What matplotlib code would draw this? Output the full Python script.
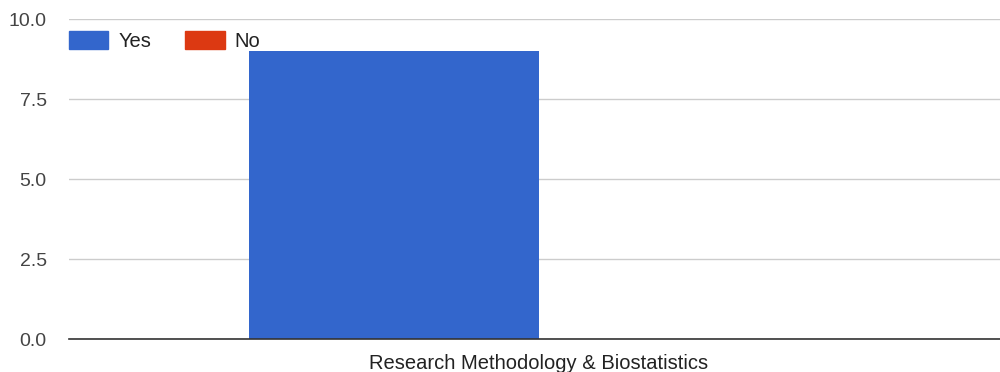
import matplotlib as mpl
import matplotlib.pyplot as plt
from matplotlib.patches import Patch

categories = ['Research Methodology & Biostatistics']
yes_vals = [9]
no_vals = [0]
y_ticks = [0.0, 2.5, 5.0, 7.5, 10.0]

mpl.rcParams['font.family'] = ['Liberation Sans', 'DejaVu Sans']

dpi = 100
fig = plt.figure(dpi=dpi, figsize=(1000 / dpi, 372 / dpi))
ax = fig.add_axes([0.069, 1 - 339 / 372, 0.94, 320 / 372])

xs = range(len(categories))
w = 0.3085
ax.bar([x - w / 2 for x in xs], yes_vals, width=w, color='#3366cc', label='Yes')
ax.bar([x + w / 2 for x in xs], no_vals, width=w, color='#dc3912', label='No')

ax.set_xlim(-0.5, 0.5)
ax.set_ylim(0, 10)
ax.set_yticks(y_ticks)
ax.set_yticklabels(['%.1f' % v for v in y_ticks])
ax.set_xticks(list(xs))
ax.set_xticklabels(categories)
ax.tick_params(axis='y', length=0, pad=16, labelsize=14, labelcolor='#444444')
ax.tick_params(axis='x', length=0, pad=11, labelsize=14.5, labelcolor='#222222')

ax.grid(axis='y', color='#cccccc', linewidth=1)
ax.set_axisbelow(True)
for s in ['top', 'right', 'left']:
    ax.spines[s].set_visible(False)
ax.spines['bottom'].set_color('#333333')
ax.spines['bottom'].set_linewidth(1.2)

handles = [Patch(color='#3366cc', label='Yes'), Patch(color='#dc3912', label='No')]
leg = ax.legend(handles=handles, loc='upper left', bbox_to_anchor=(0.0, 0.962), ncol=2,
                frameon=False, fontsize=14.5, handlelength=1.95, handleheight=1.0,
                handletextpad=0.5, columnspacing=1.7, borderaxespad=0, borderpad=0)
for t in leg.get_texts():
    t.set_color('#222222')

fig.savefig('out.png')
